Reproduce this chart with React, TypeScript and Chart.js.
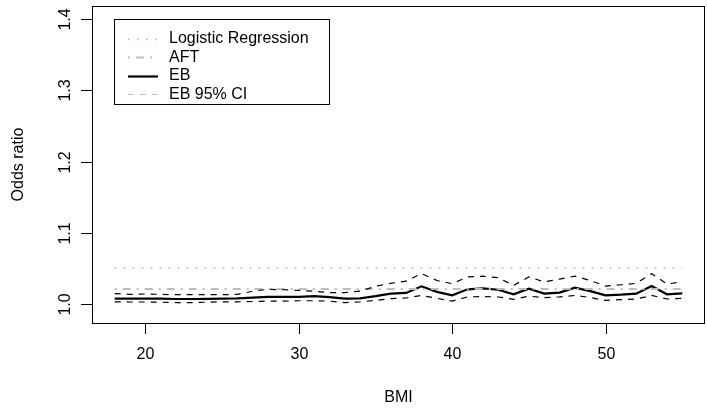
import React, { useEffect, useRef } from "react";
import { Chart, registerables } from "chart.js";

Chart.register(...registerables);

const bmi = [18, 19, 20, 21, 22, 23, 24, 25, 26, 27, 28, 29, 30, 31, 32, 33, 34, 35, 36, 37, 38, 39, 40, 41, 42, 43, 44, 45, 46, 47, 48, 49, 50, 51, 52, 53, 54, 55];

const ebValues = [1.0075, 1.0075, 1.0075, 1.0075, 1.007, 1.007, 1.0072, 1.0075, 1.0078, 1.009, 1.010, 1.010, 1.010, 1.011, 1.0095, 1.0075, 1.008, 1.011, 1.0145, 1.0155, 1.0248, 1.017, 1.0122, 1.0206, 1.022, 1.020, 1.0136, 1.0215, 1.0145, 1.016, 1.023, 1.018, 1.0122, 1.013, 1.0145, 1.0253, 1.0136, 1.015];

const ebUpper = [1.0145, 1.0135, 1.014, 1.0135, 1.013, 1.013, 1.013, 1.013, 1.0135, 1.018, 1.0206, 1.020, 1.019, 1.018, 1.016, 1.016, 1.018, 1.025, 1.029, 1.032, 1.0426, 1.033, 1.0285, 1.038, 1.039, 1.037, 1.026, 1.038, 1.031, 1.035, 1.039, 1.033, 1.025, 1.027, 1.029, 1.0426, 1.028, 1.031];

const ebLower = [1.003, 1.0028, 1.0028, 1.0025, 1.002, 1.002, 1.0025, 1.003, 1.003, 1.0035, 1.004, 1.004, 1.0045, 1.0045, 1.004, 1.002, 1.003, 1.005, 1.0075, 1.0084, 1.012, 1.008, 1.004, 1.010, 1.0105, 1.0098, 1.0066, 1.011, 1.009, 1.010, 1.012, 1.009, 1.005, 1.006, 1.007, 1.012, 1.007, 1.008];

const logisticOR = 1.0505;
const aftOR = 1.021;

const xTicks = [20, 30, 40, 50];
const yTicks = [1.0, 1.1, 1.2, 1.3, 1.4];
const yTickLabels = ["1.0", "1.1", "1.2", "1.3", "1.4"];

const legendLabels = ["Logistic Regression", "AFT", "EB", "EB 95% CI"];

const FONT = '"Liberation Sans", Arial, sans-serif';

const pts = (ys: number[]) => bmi.map((b, i) => ({ x: b, y: ys[i] }));
const flat = (v: number) => bmi.map((b) => ({ x: b, y: v }));

const legendStyles = [
  { color: "#b4b4b4", dash: [1.5, 7.5], width: 1.5 },
  { color: "#bdbdbd", dash: [2, 6, 8, 6], width: 2 },
  { color: "#000000", dash: [], width: 2.2 },
  { color: "#bdbdbd", dash: [6, 6], width: 1 },
];

const axesPlugin = {
  id: "rAxes",
  afterDraw(chart: any) {
    const ctx = chart.ctx;
    const { left, right, top, bottom } = chart.chartArea;
    const xs = chart.scales.x;
    const ys = chart.scales.y;
    ctx.save();
    ctx.strokeStyle = "#000";
    ctx.lineWidth = 1;
    ctx.setLineDash([]);
    ctx.strokeRect(Math.round(left) + 0.5, Math.round(top) + 0.5, Math.round(right - left) - 1, Math.round(bottom - top));
    ctx.fillStyle = "#000";
    ctx.font = `16px ${FONT}`;
    // x ticks
    ctx.textAlign = "center";
    ctx.textBaseline = "middle";
    xTicks.forEach((t) => {
      const px = Math.round(xs.getPixelForValue(t)) + 0.5;
      ctx.beginPath();
      ctx.moveTo(px, bottom);
      ctx.lineTo(px, bottom + 11);
      ctx.stroke();
      ctx.fillText(String(t), px, 355);
    });
    // y ticks
    yTicks.forEach((t, i) => {
      const py = Math.round(ys.getPixelForValue(t)) + 0.5;
      ctx.beginPath();
      ctx.moveTo(left, py);
      ctx.lineTo(left - 11, py);
      ctx.stroke();
      ctx.save();
      ctx.translate(66, py);
      ctx.rotate(-Math.PI / 2);
      ctx.fillText(yTickLabels[i], 0, 0);
      ctx.restore();
    });
    // titles
    ctx.fillText("BMI", (left + right) / 2, 398);
    ctx.save();
    ctx.translate(19, (top + bottom) / 2);
    ctx.rotate(-Math.PI / 2);
    ctx.fillText("Odds ratio", 0, 0);
    ctx.restore();

    // legend
    const bx = 114.5, by = 19.5, bw = 215, bh = 85;
    ctx.strokeRect(bx, by, bw, bh);
    ctx.textAlign = "left";
    legendLabels.forEach((lab, i) => {
      const y = 39 + i * 18.4;
      const st = legendStyles[i];
      ctx.save();
      ctx.strokeStyle = st.color;
      ctx.lineWidth = st.width;
      ctx.setLineDash(st.dash);
      ctx.beginPath();
      ctx.moveTo(128, Math.round(y) + 0.5);
      ctx.lineTo(158, Math.round(y) + 0.5);
      ctx.stroke();
      ctx.restore();
      ctx.fillText(lab, 169, y);
    });
    ctx.restore();
  },
};

export default function App() {
  const ref = useRef<HTMLCanvasElement | null>(null);
  useEffect(() => {
    if (!ref.current) return;
    const chart = new Chart(ref.current, {
      type: "line",
      data: {
        datasets: [
          {
            label: "EB 95% CI upper",
            data: pts(ebUpper),
            borderColor: "#000",
            borderWidth: 1.2,
            borderDash: [6, 6],
            pointRadius: 0,
            tension: 0,
          },
          {
            label: "EB 95% CI lower",
            data: pts(ebLower),
            borderColor: "#000",
            borderWidth: 1.2,
            borderDash: [6, 6],
            pointRadius: 0,
            tension: 0,
          },
          {
            label: "Logistic Regression",
            data: flat(logisticOR),
            borderColor: "#b4b4b4",
            borderWidth: 1.5,
            borderDash: [1.5, 7.5],
            pointRadius: 0,
          },
          {
            label: "AFT",
            data: flat(aftOR),
            borderColor: "#bdbdbd",
            borderWidth: 2,
            borderDash: [2, 6, 8, 6],
            pointRadius: 0,
          },
          {
            label: "EB",
            data: pts(ebValues),
            borderColor: "#000",
            borderWidth: 2.2,
            pointRadius: 0,
            tension: 0,
          },
        ],
      },
      options: {
        animation: false,
        responsive: false,
        devicePixelRatio: 1,
        layout: { padding: { left: 92, right: 2, top: 6, bottom: 87 } },
        plugins: { legend: { display: false }, tooltip: { enabled: false } },
        scales: {
          x: { type: "linear", min: 16.52, max: 56.48, display: false },
          y: { type: "linear", min: 0.9733, max: 1.4183, display: false },
        },
      },
      plugins: [axesPlugin],
    } as any);
    return () => chart.destroy();
  }, []);
  return (
    <div style={{ position: "absolute", left: 0, top: 0, width: 707, height: 410, background: "#fff" }}>
      <canvas ref={ref} width={707} height={410} style={{ display: "block" }} />
    </div>
  );
}
